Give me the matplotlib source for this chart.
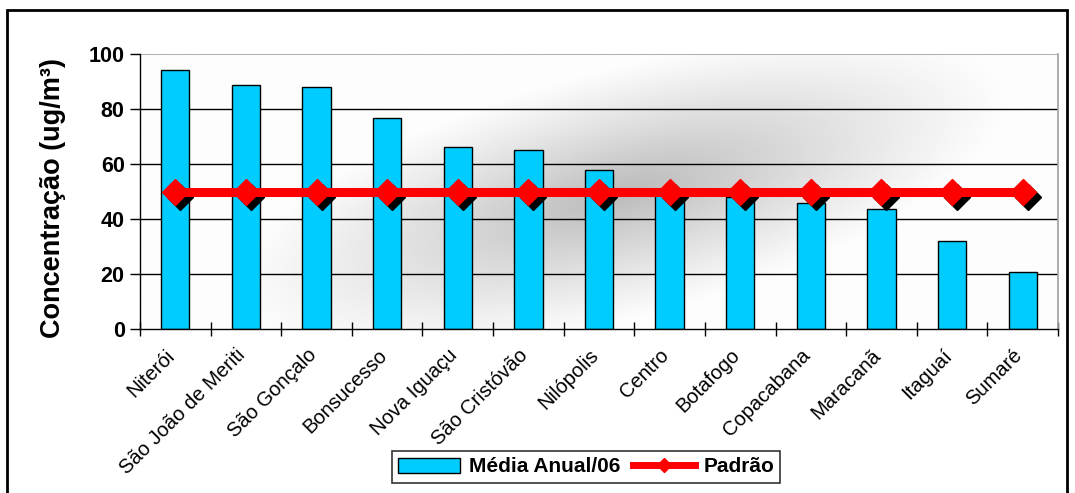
import numpy as np
import matplotlib.pyplot as plt
import matplotlib.transforms as mtransforms
from matplotlib.lines import Line2D
from matplotlib.patches import Patch, Rectangle

plt.rcParams['font.family'] = ['Liberation Sans', 'DejaVu Sans']

stations = ["Niterói", "São João de Meriti", "São Gonçalo", "Bonsucesso",
            "Nova Iguaçu", "São Cristóvão", "Nilópolis", "Centro", "Botafogo",
            "Copacabana", "Maracanã", "Itaguaí", "Sumaré"]
media_anual = [94.2, 88.7, 88.0, 76.8, 66.3, 65.2, 58.0, 49.0, 47.9, 46.0, 43.8, 32.0, 20.6]
padrao = [50] * len(stations)

fig = plt.figure(figsize=(10.75, 4.93), dpi=100)
W, H = 1075, 493
ax = fig.add_axes([140 / W, 1 - 329 / H, (1058 - 140) / W, (329 - 54) / H])

x = np.arange(len(stations))
ax.set_xlim(-0.5, len(stations) - 0.5)
ax.set_ylim(0, 100)

# gray shading behind the bars: tilted ellipse, in pixel units of the plot area
pw, ph = 918, 275
gx, gy = np.meshgrid(np.linspace(0, pw, 460), np.linspace(0, ph, 140))
ang = np.deg2rad(15)
dx, dy = gx - 480, gy - 135
u = dx * np.cos(ang) + dy * np.sin(ang)
v = -dx * np.sin(ang) + dy * np.cos(ang)
d = np.sqrt((u / 400) ** 2 + (v / 125) ** 2)
shade = np.clip(1 - d, 0, 1) ** 1.1
ax.imshow(0.99 - 0.26 * shade, cmap='gray', vmin=0, vmax=1, aspect='auto', origin='lower',
          extent=(-0.5, len(stations) - 0.5, 0, 100), zorder=0, interpolation='bilinear')

for yv in [20, 40, 60, 80]:
    ax.axhline(yv, color='black', lw=1.0, zorder=1)
ax.axhline(100, color='#a0a0a0', lw=1.2, zorder=1)

ax.bar(x, media_anual, width=0.4, color='#00ccff', edgecolor='black', lw=1.0, zorder=2)

# marker shadow
shadow = mtransforms.offset_copy(ax.transData, fig=fig, x=5, y=-5, units='dots')
ax.plot(x, padrao, ls='none', marker='D', ms=13, color='black', transform=shadow, zorder=3)
ax.plot(x, padrao, color='#ff0000', lw=6.5, marker='D', ms=13, zorder=4)

for s in ['top', 'right']:
    ax.spines[s].set_visible(False)
ax.spines['left'].set_linewidth(1.0)
ax.spines['bottom'].set_linewidth(1.0)
ax.plot([1, 1], [0, 1], transform=ax.transAxes, color='#a0a0a0', lw=1.2, clip_on=False)

ax.set_yticks([0, 20, 40, 60, 80, 100])
ax.set_yticklabels([str(v) for v in [0, 20, 40, 60, 80, 100]], fontweight='bold')
ax.tick_params(axis='y', direction='out', length=7, width=1.0, labelsize=15.5, pad=4)
ax.set_xticks(np.arange(len(stations) + 1) - 0.5, minor=True)
ax.set_xticks(x)
ax.tick_params(axis='x', which='major', length=0, pad=12)
ax.tick_params(axis='x', which='minor', direction='inout', length=9.5, width=1.0)
ax.set_xticklabels(stations, rotation=45, ha='right', rotation_mode='anchor', fontsize=14.5)
shift = mtransforms.ScaledTranslation(-10 / 100, 0, fig.dpi_scale_trans)
for lab in ax.get_xticklabels():
    lab.set_transform(lab.get_transform() + shift)
ax.set_ylabel("Concentração (ug/m³)", fontsize=19.5, fontweight='bold')
ax.yaxis.set_label_coords(-74 / 918, 0.476)

handles = [Patch(facecolor='#00ccff', edgecolor='black', label='Média Anual/06'),
           Line2D([], [], color='#ff0000', lw=5, marker='D', ms=7, label='Padrão')]
leg = fig.legend(handles=handles, loc='center', bbox_to_anchor=(586 / W, 1 - 467 / H),
                 ncol=2, frameon=True, fancybox=False, edgecolor='black',
                 prop={'size': 15, 'weight': 'bold'},
                 handlelength=3.0, handletextpad=0.4, columnspacing=0.6, borderpad=0.3)
leg.get_frame().set_linewidth(1.2)

fig.patches.append(Rectangle((7 / W, -0.1), (1067 - 7) / W, 1 + 0.1 - 10 / H,
                             transform=fig.transFigure, fill=False, edgecolor='black', lw=2))

fig.savefig('out.png', dpi=100)
